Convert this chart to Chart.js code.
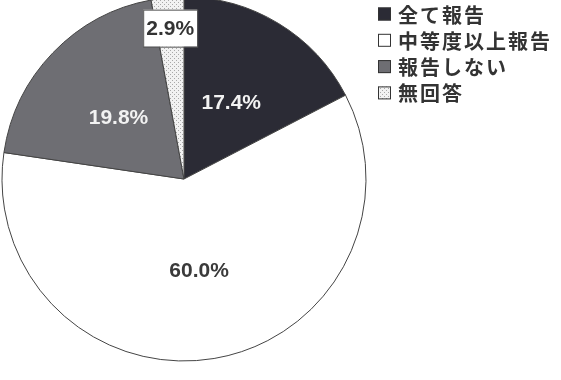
<!DOCTYPE html>
<html>
<head>
<meta charset="utf-8">
<script src="https://cdn.jsdelivr.net/npm/chart.js@4"></script>
<style>
  html, body { margin: 0; padding: 0; background: #fff; }
  #wrap { width: 561px; height: 380px; position: relative; }
</style>
</head>
<body>
<div id="wrap"><canvas id="myChart" width="561" height="380"></canvas></div>
<script>
const categories = ['全て報告', '中等度以上報告', '報告しない', '無回答'];
const values = [17.4, 60.0, 19.8, 2.9];
const valueLabels = ['17.4%', '60.0%', '19.8%', '2.9%'];

// stippled fill for the small slice
function makeDots() {
    const c = document.createElement('canvas');
    c.width = 4; c.height = 4;
    const g = c.getContext('2d');
    g.fillStyle = '#f2f2f2';
    g.fillRect(0, 0, 4, 4);
    g.fillStyle = '#a9a9a9';
    g.fillRect(0, 0, 1, 1);
    g.fillRect(2, 2, 1, 1);
    return g.createPattern(c, 'repeat');
}

const ctx = document.getElementById('myChart').getContext('2d');
const colors = ['#2b2b35', '#ffffff', '#6e6e73', makeDots()];
const textColors = ['#f2f2f2', '#3a3a3a', '#f2f2f2', '#333333'];
const labelRadius = [0.5, 0.5, 0.5, 0.835];

const sliceLabels = {
    id: 'sliceLabels',
    afterDatasetsDraw(chart) {
        const c = chart.ctx;
        const arcs = chart.getDatasetMeta(0).data;
        c.save();
        c.font = 'bold 21px "Liberation Sans", Arial, sans-serif';
        c.textAlign = 'center';
        c.textBaseline = 'middle';
        arcs.forEach((arc, i) => {
            const p = arc.getProps(['x', 'y', 'startAngle', 'endAngle', 'outerRadius'], true);
            const mid = (p.startAngle + p.endAngle) / 2;
            const r = p.outerRadius * labelRadius[i];
            const x = p.x + Math.cos(mid) * r;
            const y = p.y + Math.sin(mid) * r;
            if (i === 3) {
                c.fillStyle = '#ffffff';
                c.fillRect(x - 27, y - 18, 54, 37);
                c.strokeStyle = '#555';
                c.lineWidth = 1;
                c.strokeRect(x - 26.5, y - 17.5, 54, 37);
            }
            c.fillStyle = textColors[i];
            c.fillText(valueLabels[i], x, y + 2);
        });
        c.restore();
    }
};

const sideLegend = {
    id: 'sideLegend',
    afterDraw(chart) {
        const c = chart.ctx;
        c.save();
        c.font = 'bold 20px "Noto Sans CJK JP", sans-serif';
        c.letterSpacing = '2px';
        c.textBaseline = 'middle';
        categories.forEach((name, i) => {
            const y = 14 + i * 26.3;
            c.fillStyle = colors[i];
            c.fillRect(378, y - 6.5, 13, 13);
            c.strokeStyle = '#333';
            c.lineWidth = 1;
            c.strokeRect(378.5, y - 6, 12, 12);
            c.fillStyle = '#333';
            c.fillText(name, 398, y + 1);
        });
        c.restore();
    }
};

new Chart(ctx, {
    type: 'pie',
    data: {
        labels: categories,
        datasets: [{
            data: values,
            backgroundColor: colors,
            borderColor: '#444',
            borderWidth: 1,
            radius: 182
        }]
    },
    options: {
        responsive: false,
        animation: false,
        layout: { padding: { left: 2, right: 195, top: 0, bottom: 22 } },
        plugins: {
            legend: { display: false },
            tooltip: { enabled: false }
        }
    },
    plugins: [sliceLabels, sideLegend]
});
</script>
</body>
</html>
